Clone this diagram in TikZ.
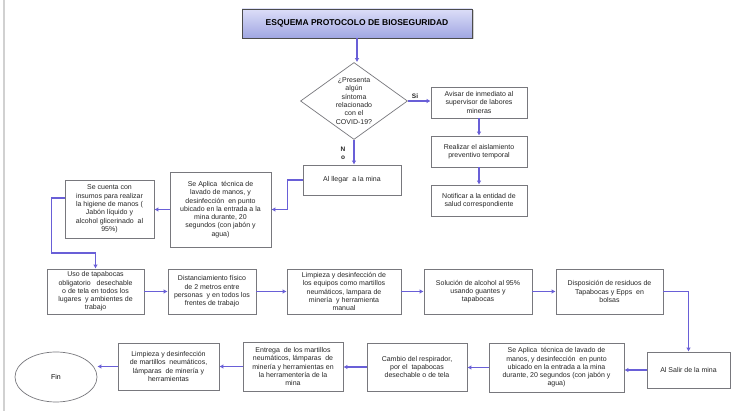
\documentclass[tikz,border=0pt]{standalone}
\usepackage{fontspec}
\setmainfont{Liberation Sans}
\usetikzlibrary{arrows.meta,shapes.geometric,shadows}
\definecolor{conn}{RGB}{105,95,215}
\definecolor{bord}{RGB}{120,120,125}
\definecolor{ttop}{RGB}{220,222,248}
\definecolor{tbot}{RGB}{160,166,226}
\tikzset{
  bx/.style={draw=bord, line width=0.7pt, fill=white, align=center, inner sep=1pt,
    font=\fontsize{7}{8.3}\selectfont, text=black!85},
  ttl/.style={draw=black!70, line width=0.8pt, top color=ttop, bottom color=tbot,
    drop shadow={shadow xshift=1.5pt, shadow yshift=-1.5pt, opacity=0.35},
    font=\bfseries\fontsize{8.5}{10}\selectfont, align=center},
  diam/.style={diamond, draw=bord, line width=0.7pt, fill=white, inner sep=0pt},
  lbl/.style={font=\fontsize{7}{8.3}\selectfont, align=center, text=black!85},
  arr/.style={draw=conn, line width=1.2pt, -{Latex[length=4pt,width=4.5pt]}},
}
\begin{document}
\begin{tikzpicture}[x=1pt,y=-1pt]
\useasboundingbox (0,0) rectangle (739,411);
\fill[white] (0,0) rectangle (739,411);
\draw[black!18, line width=1.6pt] (4,0) -- (4,411);

\node[ttl, minimum width=230, minimum height=29] (title) at (357,23.5) {ESQUEMA PROTOCOLO DE BIOSEGURIDAD};
\node[diam, minimum width=107, minimum height=77] (d) at (354,101) {};
\node[lbl] at (d.center) {¿Presenta\\algún\\síntoma\\relacionado\\con el\\COVID-19?};

\node[bx, minimum width=96, minimum height=31] (avisar) at (479,102.5) {Avisar de inmediato al\\supervisor de labores\\mineras};
\node[bx, minimum width=96, minimum height=31] (realizar) at (479,151.5) {Realizar el aislamiento\\preventivo temporal};
\node[bx, minimum width=96, minimum height=31] (notificar) at (479,200.5) {Notificar a la entidad de\\salud correspondiente};

\node[bx, minimum width=98, minimum height=30] (llegar) at (352,180) {Al llegar~ a la mina};
\node[bx, minimum width=101, minimum height=75] (apl1) at (220.5,209.5) {Se Aplica~ técnica de\\lavado de manos, y\\desinfección~ en punto\\ubicado en la entrada a la\\mina durante, 20\\segundos (con jabón y\\agua)};
\node[bx, minimum width=89, minimum height=58] (cuenta) at (109.5,209) {Se cuenta con\\insumos para realizar\\la higiene de manos (\\Jabón líquido y\\alcohol glicerinado~ al\\95\%)};

\node[bx, minimum width=97, minimum height=45] (uso) at (95.5,291.5) {Uso de tapabocas\\obligatorio~~ desechable\\o de tela en todos los\\lugares~ y ambientes de\\trabajo};
\node[bx, minimum width=88, minimum height=45] (dist) at (212,291.5) {Distanciamiento físico\\de 2 metros entre\\personas~ y en todos los\\frentes de trabajo};
\node[bx, minimum width=114, minimum height=45] (limp) at (344,291.5) {Limpieza y desinfección de\\los equipos como martillos\\neumáticos, lampara de\\minería~ y herramienta\\manual};
\node[bx, minimum width=108, minimum height=45] (sol) at (478,291.5) {Solución de alcohol al 95\%\\usando guantes y\\tapabocas};
\node[bx, minimum width=107, minimum height=45] (disp) at (609.5,291.5) {Disposición de residuos de\\Tapabocas y Epps~ en\\bolsas};

\node[bx, minimum width=83, minimum height=36] (salir) at (688.5,370) {Al Salir de la mina};
\node[bx, minimum width=135, minimum height=49] (apl2) at (556.5,367.5) {Se Aplica~ técnica de lavado de\\manos, y desinfección~ en punto\\ubicado en la entrada a la mina\\durante, 20 segundos (con jabón y\\agua)};
\node[bx, minimum width=100, minimum height=48] (cambio) at (417,367) {Cambio del respirador,\\por el~ tapabocas\\desechable o de tela};
\node[bx, minimum width=100, minimum height=49] (entrega) at (293,366.5) {Entrega~ de los martillos\\neumáticos, lámparas~ de\\minería y herramientas en\\la herramentería de la\\mina};
\node[bx, minimum width=101, minimum height=47] (limp2) at (168.5,366.5) {Limpieza y desinfección\\de martillos~ neumáticos,\\lámparas~ de minería y\\herramientas};
\node[ellipse, draw=bord, line width=0.7pt, minimum width=82, minimum height=50, inner sep=0pt,
  font=\fontsize{7}{8.3}\selectfont] (fin) at (56,377) {Fin};

% connectors
\draw[arr] (title.south) -- (title.south |- d.north);
\draw[arr] (d.east) -- (d.east -| avisar.west);
\node[lbl, font=\bfseries\fontsize{6.5}{7.5}\selectfont] at (415,96.5) {Si};
\draw[arr] (avisar.south) -- (realizar.north);
\draw[arr] (realizar.south) -- (notificar.north);
\draw[arr] (d.south) -- (d.south |- llegar.north);
\node[lbl, font=\bfseries\fontsize{6.5}{8}\selectfont] at (343,153) {N\\o};
\draw[arr] (llegar.west) -- ++(-15,0) |- (apl1.east);
\draw[arr] (apl1.west) -- (apl1.west -| cuenta.east);
\draw[arr] ([yshift=11pt]cuenta.west) -- ++(-13,0) -- ++(0,55) -| (uso.north);
\draw[arr] (uso.east) -- (dist.west);
\draw[arr] (dist.east) -- (limp.west);
\draw[arr] (limp.east) -- (sol.west);
\draw[arr] (sol.east) -- (disp.west);
\draw[arr] (disp.east) -| (salir.north);
\draw[arr] (salir.west) -- (salir.west -| apl2.east);
\draw[arr] (apl2.west) -- (apl2.west -| cambio.east);
\draw[arr] (cambio.west) -- (cambio.west -| entrega.east);
\draw[arr] (entrega.west) -- (entrega.west -| limp2.east);
\draw[arr] (limp2.west) -- (limp2.west -| fin.east);
\end{tikzpicture}
\end{document}
